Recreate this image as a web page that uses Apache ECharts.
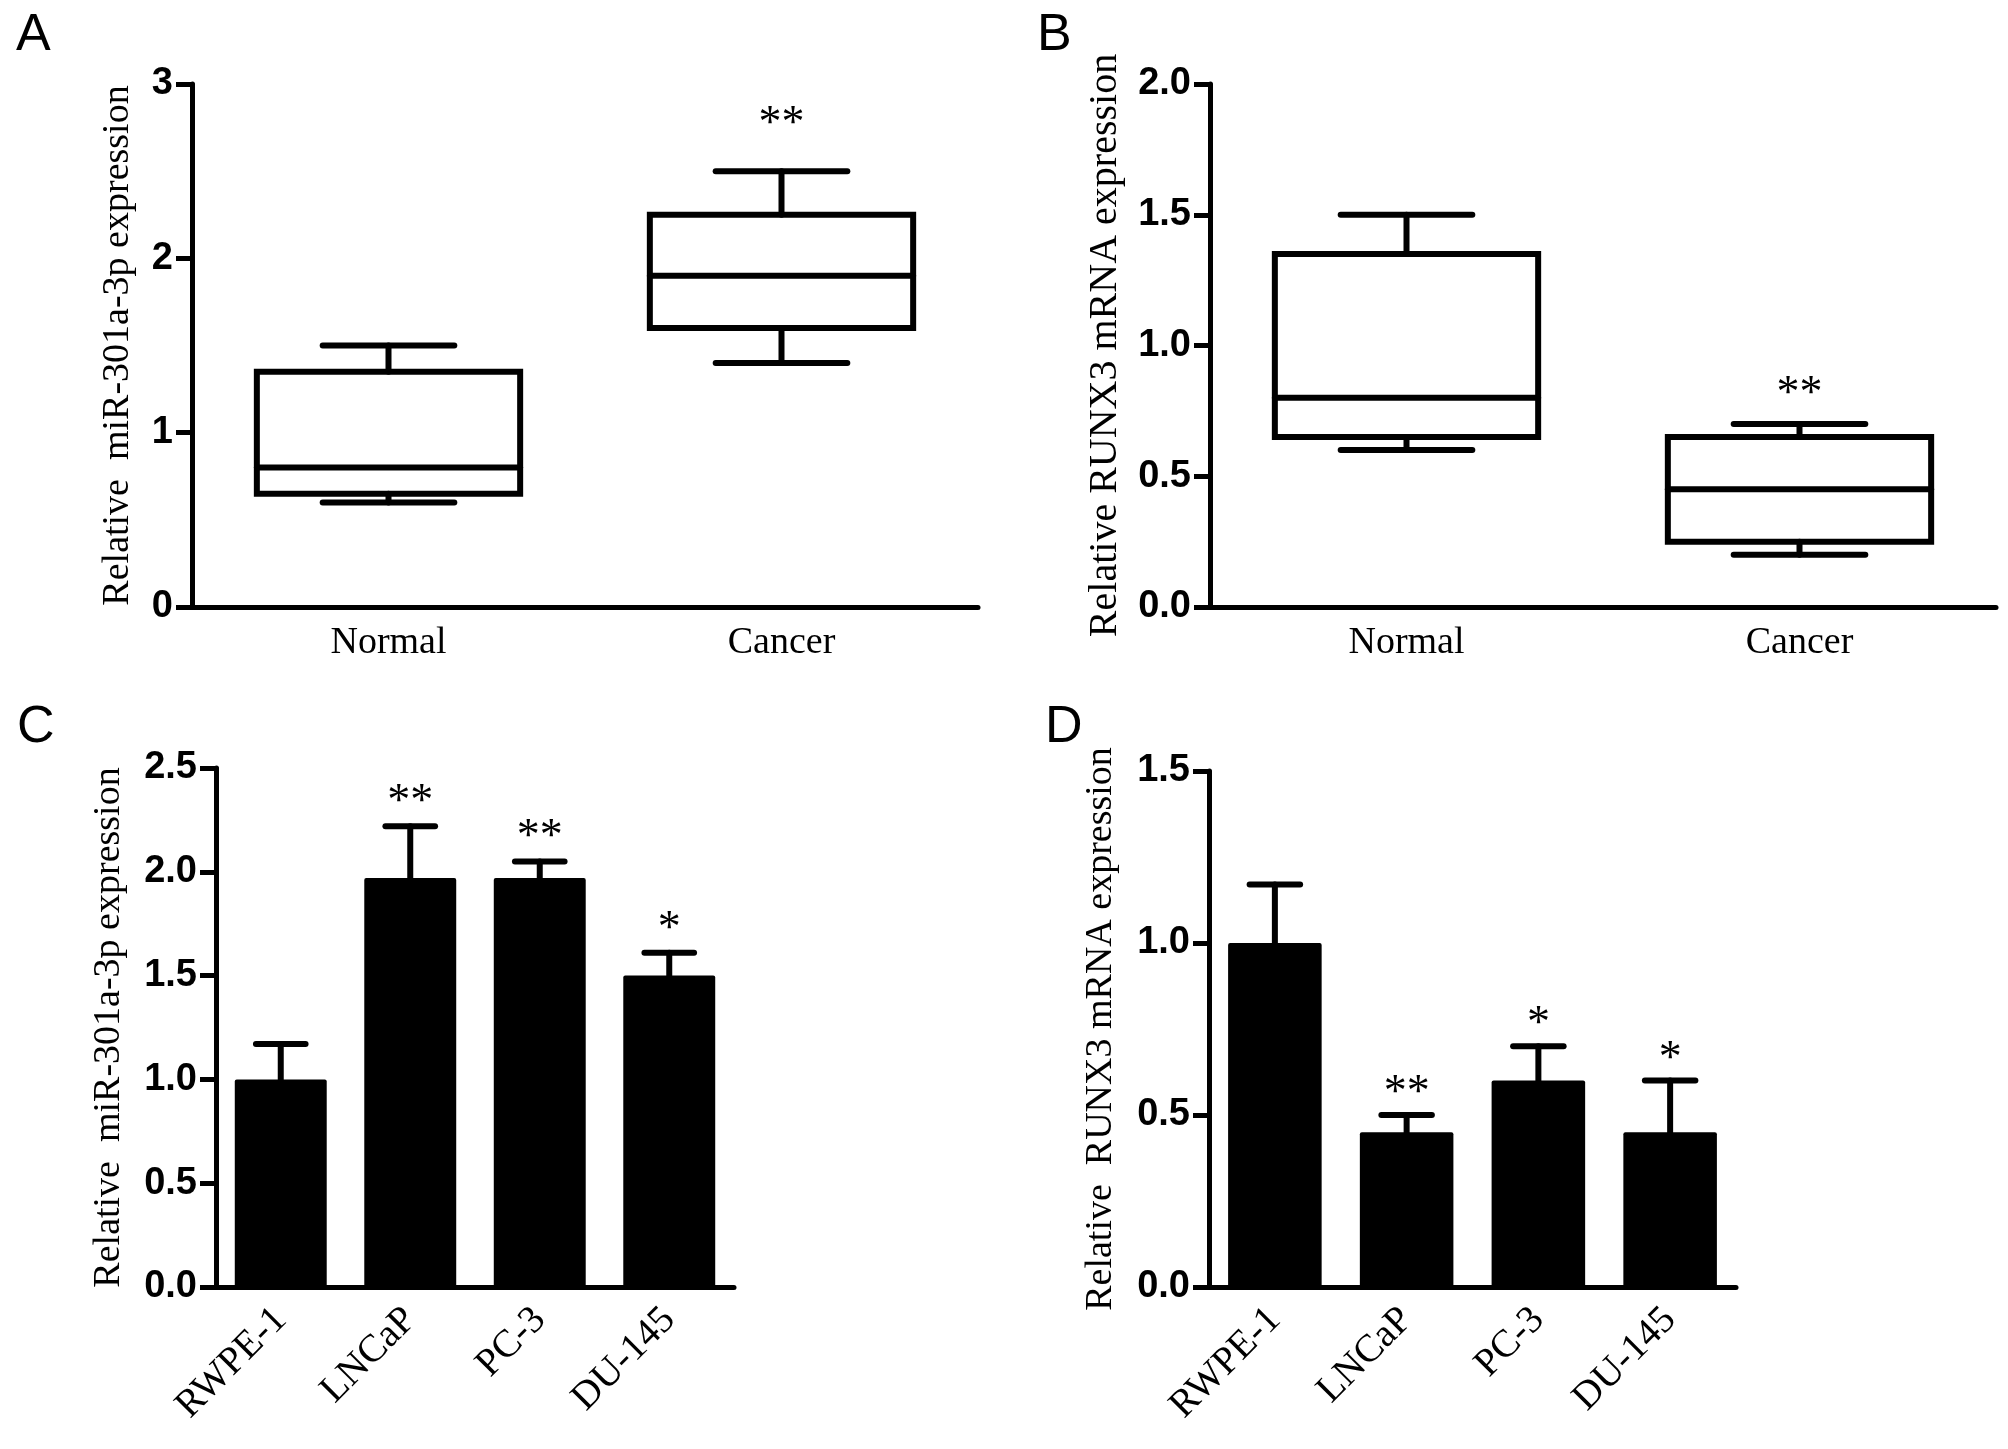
<!DOCTYPE html>
<html>
<head>
<meta charset="utf-8">
<script src="https://cdn.jsdelivr.net/npm/echarts@6/dist/echarts.min.js"></script>
<style>
  html, body { margin: 0; padding: 0; background: #fff; }
  #chart { width: 2008px; height: 1449px; }
</style>
</head>
<body>
<div id="chart"></div>
<script>
// panel A / B: box plots, [min, Q1, median, Q3, max]
const boxGroups = ['Normal', 'Cancer'];
const mirBox = [[0.6, 0.65, 0.8, 1.35, 1.5], [1.4, 1.6, 1.9, 2.25, 2.5]];
const runx3Box = [[0.6, 0.65, 0.8, 1.35, 1.5], [0.2, 0.25, 0.45, 0.65, 0.7]];
const boxStars = ['', '**'];

// panel C / D: cell line means with upper error bar
const cellLines = ['RWPE-1', 'LNCaP', 'PC-3', 'DU-145'];
const mirMean = [1.0, 1.97, 1.97, 1.5];
const mirUpper = [1.17, 2.22, 2.05, 1.61];
const mirStars = ['', '**', '**', '*'];
const runx3Mean = [1.0, 0.45, 0.6, 0.45];
const runx3Upper = [1.17, 0.5, 0.7, 0.6];
const runx3Stars = ['', '**', '*', '*'];

// y ticks per panel
const yTicksA = [0, 1, 2, 3];
const yTicksB = [0, 0.5, 1.0, 1.5, 2.0];
const yTicksC = [0, 0.5, 1.0, 1.5, 2.0, 2.5];
const yTicksD = [0, 0.5, 1.0, 1.5];

const SERIF = '"Liberation Serif", "Times New Roman", serif';
const SANS = '"Liberation Sans", Arial, sans-serif';
const LW = 6;

function xAxisFor(grid, cats, rotate) {
    return {
        type: 'category', gridIndex: grid, data: cats,
        axisLine: { lineStyle: { color: '#000', width: 5 } },
        axisTick: { alignWithLabel: true, length: 16, lineStyle: { color: '#000', width: 5 } },
        axisLabel: {
            color: '#000', fontFamily: SERIF, fontSize: rotate ? 39 : 38,
            rotate: rotate, margin: rotate ? 27 : 17, interval: 0
        },
        splitLine: { show: false }
    };
}

function yAxisFor(grid, ticks, name, gap, digits, nameSize) {
    return {
        type: 'value', gridIndex: grid,
        min: ticks[0], max: ticks[ticks.length - 1], interval: ticks[1] - ticks[0],
        name: name, nameLocation: 'middle', nameGap: gap,
        nameTextStyle: { color: '#000', fontFamily: SERIF, fontSize: nameSize || 38 },
        axisLine: { show: true, lineStyle: { color: '#000', width: 5 } },
        axisTick: { show: true, length: 16, lineStyle: { color: '#000', width: 5 } },
        axisLabel: {
            color: '#000', fontFamily: SANS, fontWeight: 'bold', fontSize: 38, margin: 19,
            formatter: function (v) { return v.toFixed(digits); }
        },
        splitLine: { show: false }
    };
}

function starText(x, y, txt) {
    return {
        type: 'text', x: x, y: y,
        style: { text: txt, fill: '#000', fontSize: 46, fontFamily: SERIF, align: 'center', verticalAlign: 'middle' }
    };
}

function boxSeries(grid, boxes, stars, starGap) {
    return {
        type: 'custom', xAxisIndex: grid, yAxisIndex: grid, silent: true,
        data: boxes.map(function (b, i) { return [i].concat(b); }),
        encode: { x: 0, y: [1, 2, 3, 4, 5] },
        renderItem: function (params, api) {
            var i = api.value(0);
            var pts = [1, 2, 3, 4, 5].map(function (d) { return api.coord([i, api.value(d)]); });
            var x = pts[0][0];
            var half = api.size([1, 0])[0] * 0.335;
            var capHalf = half * 0.5;
            var y = pts.map(function (p) { return p[1]; });
            var st = { stroke: '#000', lineWidth: LW, fill: null, lineCap: 'round' };
            var kids = [
                { type: 'rect', shape: { x: x - half, y: y[3], width: half * 2, height: y[1] - y[3] }, style: { stroke: '#000', lineWidth: LW, fill: 'transparent' } },
                { type: 'line', shape: { x1: x - half, y1: y[2], x2: x + half, y2: y[2] }, style: st },
                { type: 'line', shape: { x1: x, y1: y[3], x2: x, y2: y[4] }, style: st },
                { type: 'line', shape: { x1: x, y1: y[1], x2: x, y2: y[0] }, style: st },
                { type: 'line', shape: { x1: x - capHalf, y1: y[4], x2: x + capHalf, y2: y[4] }, style: st },
                { type: 'line', shape: { x1: x - capHalf, y1: y[0], x2: x + capHalf, y2: y[0] }, style: st }
            ];
            if (stars[params.dataIndex]) kids.push(starText(x, y[4] - starGap, stars[params.dataIndex]));
            return { type: 'group', children: kids };
        }
    };
}

function barSeries(grid, means) {
    return {
        type: 'bar', xAxisIndex: grid, yAxisIndex: grid, silent: true,
        data: means, barWidth: '71%',
        itemStyle: { color: '#000', borderRadius: 2 }
    };
}

function errorSeries(grid, means, upper, stars, starGap) {
    return {
        type: 'custom', xAxisIndex: grid, yAxisIndex: grid, silent: true, z: 3,
        data: means.map(function (m, i) { return [i, m, upper[i]]; }),
        encode: { x: 0, y: [1, 2] },
        renderItem: function (params, api) {
            var i = api.value(0);
            var p0 = api.coord([i, api.value(1)]);
            var p1 = api.coord([i, api.value(2)]);
            var capHalf = api.size([1, 0])[0] * 0.71 * 0.27;
            var st = { stroke: '#000', lineWidth: LW, lineCap: 'round' };
            var kids = [
                { type: 'line', shape: { x1: p0[0], y1: p0[1], x2: p1[0], y2: p1[1] }, style: st },
                { type: 'line', shape: { x1: p1[0] - capHalf, y1: p1[1], x2: p1[0] + capHalf, y2: p1[1] }, style: st }
            ];
            if (stars[params.dataIndex]) kids.push(starText(p1[0], p1[1] - starGap, stars[params.dataIndex]));
            return { type: 'group', children: kids };
        }
    };
}

function panelLetter(txt, left, top) {
    return { text: txt, left: left, top: top, padding: 0,
        textStyle: { color: '#000', fontFamily: SANS, fontWeight: 'normal', fontSize: 52 } };
}

const chart = echarts.init(document.getElementById('chart'), null, { renderer: 'canvas' });
chart.setOption({
    animation: false,
    backgroundColor: '#fff',
    title: [
        panelLetter('A', 16, 10),
        panelLetter('B', 1037, 10),
        panelLetter('C', 17, 702),
        panelLetter('D', 1045, 702)
    ],
    grid: [
        { left: 192, top: 84, width: 786, height: 523 },
        { left: 1210, top: 84, width: 786, height: 523 },
        { left: 216, top: 768, width: 518, height: 519 },
        { left: 1209, top: 771, width: 527, height: 516 }
    ],
    xAxis: [
        xAxisFor(0, boxGroups, 0),
        xAxisFor(1, boxGroups, 0),
        xAxisFor(2, cellLines, 45),
        xAxisFor(3, cellLines, 45)
    ],
    yAxis: [
        yAxisFor(0, yTicksA, 'Relative  miR-301a-3p expression', 55, 0),
        yAxisFor(1, yTicksB, 'Relative RUNX3 mRNA expression', 85, 1, 40),
        yAxisFor(2, yTicksC, 'Relative  miR-301a-3p expression', 88, 1),
        yAxisFor(3, yTicksD, 'Relative  RUNX3 mRNA expression', 89, 1)
    ],
    series: [
        boxSeries(0, mirBox, boxStars, 46),
        boxSeries(1, runx3Box, boxStars, 29),
        barSeries(2, mirMean),
        errorSeries(2, mirMean, mirUpper, mirStars, 23),
        barSeries(3, runx3Mean),
        errorSeries(3, runx3Mean, runx3Upper, runx3Stars, 21)
    ]
});
</script>
</body>
</html>
